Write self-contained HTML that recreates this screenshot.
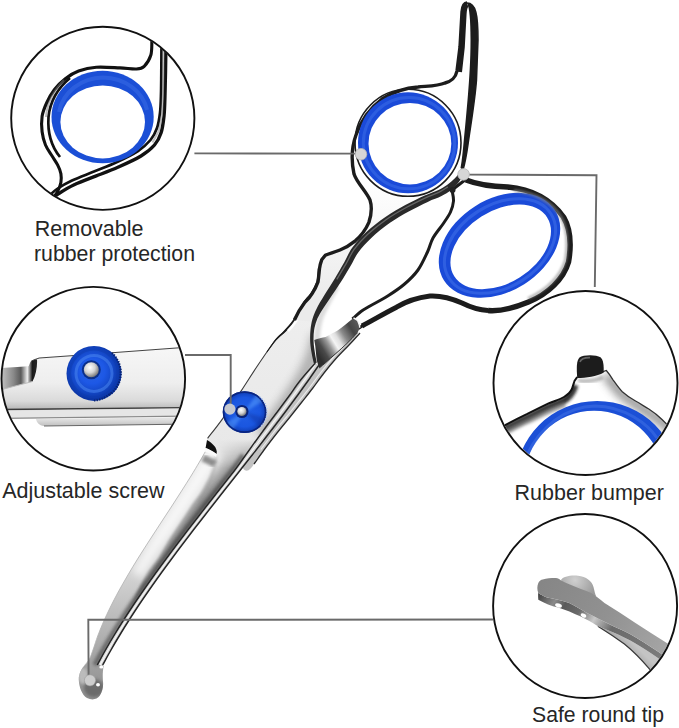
<!DOCTYPE html>
<html><head><meta charset="utf-8">
<style>
html,body{margin:0;padding:0;background:#fff;}
body{width:679px;height:728px;overflow:hidden;position:relative;}
svg{position:absolute;left:0;top:0;}
text{font-family:"Liberation Sans",sans-serif;fill:#262626;}
</style></head><body>
<svg width="679" height="728" viewBox="0 0 679 728">
<defs>
  <linearGradient id="h1G" gradientUnits="userSpaceOnUse" x1="0" y1="180" x2="0" y2="300">
    <stop offset="0" stop-color="#ffffff"/>
    <stop offset="1" stop-color="#ebebeb"/>
  </linearGradient>
  <linearGradient id="faceG" gradientUnits="userSpaceOnUse" x1="0" y1="290" x2="0" y2="695">
    <stop offset="0" stop-color="#efefef"/>
    <stop offset="0.4" stop-color="#e8e8e8"/>
    <stop offset="0.6" stop-color="#e2e2e2"/>
    <stop offset="0.72" stop-color="#cfcfcf"/>
    <stop offset="0.85" stop-color="#b2b2b2"/>
    <stop offset="1" stop-color="#8e8e8e"/>
  </linearGradient>
  <linearGradient id="bevG" gradientUnits="userSpaceOnUse" x1="0" y1="450" x2="0" y2="670">
    <stop offset="0" stop-color="#a0a0a0"/>
    <stop offset="0.4" stop-color="#8a8a8a"/>
    <stop offset="1" stop-color="#767676"/>
  </linearGradient>
  <linearGradient id="bevelG" gradientUnits="userSpaceOnUse" x1="190" y1="500" x2="215" y2="515">
    <stop offset="0" stop-color="#b5b5b5"/>
    <stop offset="0.6" stop-color="#6a6a6a"/>
    <stop offset="1" stop-color="#7a7a7a"/>
  </linearGradient>
  <linearGradient id="heelG" gradientUnits="userSpaceOnUse" x1="316" y1="352" x2="358" y2="326">
    <stop offset="0" stop-color="#2e2e2e"/>
    <stop offset="0.15" stop-color="#4a4a4a"/>
    <stop offset="0.3" stop-color="#9a9a9a"/>
    <stop offset="0.42" stop-color="#f4f4f4"/>
    <stop offset="0.52" stop-color="#e0e0e0"/>
    <stop offset="0.66" stop-color="#8a8a8a"/>
    <stop offset="0.85" stop-color="#444"/>
    <stop offset="1" stop-color="#555"/>
  </linearGradient>
  <radialGradient id="screwG" cx="0.5" cy="0.5" r="0.5">
    <stop offset="0" stop-color="#2260e6"/>
    <stop offset="0.7" stop-color="#1a56e0"/>
    <stop offset="0.9" stop-color="#1244c0"/>
    <stop offset="1" stop-color="#0a2a90"/>
  </radialGradient>
  <radialGradient id="ballG" cx="0.4" cy="0.35" r="0.7">
    <stop offset="0" stop-color="#ffffff"/>
    <stop offset="0.5" stop-color="#d4d4d4"/>
    <stop offset="1" stop-color="#6a6a6a"/>
  </radialGradient>
  <linearGradient id="barG" gradientUnits="userSpaceOnUse" x1="0" y1="350" x2="0" y2="410">
    <stop offset="0" stop-color="#f6f6f6"/>
    <stop offset="0.55" stop-color="#eeeeee"/>
    <stop offset="0.85" stop-color="#dadada"/>
    <stop offset="1" stop-color="#b4b4b4"/>
  </linearGradient>
  <linearGradient id="notchG" gradientUnits="userSpaceOnUse" x1="0" y1="0" x2="38" y2="0">
    <stop offset="0" stop-color="#c8c8c8"/>
    <stop offset="0.35" stop-color="#8a8a8a"/>
    <stop offset="0.55" stop-color="#5a5a5a"/>
    <stop offset="0.72" stop-color="#efefef"/>
    <stop offset="0.85" stop-color="#1a1a1a"/>
    <stop offset="1" stop-color="#2a2a2a"/>
  </linearGradient>
  <linearGradient id="strip2G" gradientUnits="userSpaceOnUse" x1="0" y1="419" x2="0" y2="426">
    <stop offset="0" stop-color="#e2e2e2"/>
    <stop offset="1" stop-color="#c0c0c0"/>
  </linearGradient>
  <radialGradient id="screwBigG" gradientUnits="userSpaceOnUse" cx="92" cy="371" r="28">
    <stop offset="0" stop-color="#2a62e0"/>
    <stop offset="0.45" stop-color="#1d58e6"/>
    <stop offset="0.75" stop-color="#1448c8"/>
    <stop offset="1" stop-color="#0b35a5"/>
  </radialGradient>
  <linearGradient id="tipFaceG" gradientUnits="userSpaceOnUse" x1="540" y1="585" x2="670" y2="650">
    <stop offset="0" stop-color="#868686"/>
    <stop offset="0.5" stop-color="#919191"/>
    <stop offset="1" stop-color="#a6a6a6"/>
  </linearGradient>
  <linearGradient id="sideG" gradientUnits="userSpaceOnUse" x1="540" y1="595" x2="650" y2="665">
    <stop offset="0" stop-color="#4a4a4a"/>
    <stop offset="0.12" stop-color="#8a8a8a"/>
    <stop offset="0.2" stop-color="#5a5a5a"/>
    <stop offset="0.32" stop-color="#6a6a6a"/>
    <stop offset="0.45" stop-color="#c8c8c8"/>
    <stop offset="0.6" stop-color="#6a6a6a"/>
    <stop offset="1" stop-color="#7a7a7a"/>
  </linearGradient>
  <linearGradient id="stripG" gradientUnits="userSpaceOnUse" x1="610" y1="640" x2="620" y2="630">
    <stop offset="0" stop-color="#9c9c9c"/>
    <stop offset="1" stop-color="#c4c4c4"/>
  </linearGradient>
  <radialGradient id="knobG" gradientUnits="userSpaceOnUse" cx="575" cy="580" r="22">
    <stop offset="0" stop-color="#d0d0d0"/>
    <stop offset="1" stop-color="#9a9a9a"/>
  </radialGradient>
  <filter id="blur5" x="-50%" y="-50%" width="200%" height="200%"><feGaussianBlur stdDeviation="4"/></filter>
  <linearGradient id="bvg0" gradientUnits="userSpaceOnUse" x1="0" y1="460" x2="0" y2="610"><stop offset="0.00" stop-color="#dedede"/><stop offset="0.27" stop-color="#a3a3a3"/><stop offset="0.70" stop-color="#8a8a8a"/><stop offset="1.00" stop-color="#888888"/></linearGradient>
  <linearGradient id="bvg1" gradientUnits="userSpaceOnUse" x1="0" y1="460" x2="0" y2="610"><stop offset="0.00" stop-color="#d7d7d7"/><stop offset="0.27" stop-color="#9d9d9d"/><stop offset="0.70" stop-color="#868686"/><stop offset="1.00" stop-color="#848484"/></linearGradient>
  <linearGradient id="bvg2" gradientUnits="userSpaceOnUse" x1="0" y1="460" x2="0" y2="610"><stop offset="0.00" stop-color="#d0d0d0"/><stop offset="0.27" stop-color="#979797"/><stop offset="0.70" stop-color="#828282"/><stop offset="1.00" stop-color="#808080"/></linearGradient>
  <linearGradient id="bvg3" gradientUnits="userSpaceOnUse" x1="0" y1="460" x2="0" y2="610"><stop offset="0.00" stop-color="#c8c8c8"/><stop offset="0.27" stop-color="#929292"/><stop offset="0.70" stop-color="#7e7e7e"/><stop offset="1.00" stop-color="#7c7c7c"/></linearGradient>
  <linearGradient id="bvg4" gradientUnits="userSpaceOnUse" x1="0" y1="460" x2="0" y2="610"><stop offset="0.00" stop-color="#c1c1c1"/><stop offset="0.27" stop-color="#8c8c8c"/><stop offset="0.70" stop-color="#7a7a7a"/><stop offset="1.00" stop-color="#787878"/></linearGradient>
  <linearGradient id="bvg5" gradientUnits="userSpaceOnUse" x1="0" y1="460" x2="0" y2="610"><stop offset="0.00" stop-color="#bababa"/><stop offset="0.27" stop-color="#868686"/><stop offset="0.70" stop-color="#767676"/><stop offset="1.00" stop-color="#747474"/></linearGradient>
  <linearGradient id="bvg6" gradientUnits="userSpaceOnUse" x1="0" y1="460" x2="0" y2="610"><stop offset="0.00" stop-color="#b2b2b2"/><stop offset="0.27" stop-color="#808080"/><stop offset="0.70" stop-color="#727272"/><stop offset="1.00" stop-color="#707070"/></linearGradient>
  <linearGradient id="bvg7" gradientUnits="userSpaceOnUse" x1="0" y1="460" x2="0" y2="610"><stop offset="0.00" stop-color="#ababab"/><stop offset="0.27" stop-color="#7a7a7a"/><stop offset="0.70" stop-color="#6e6e6e"/><stop offset="1.00" stop-color="#6c6c6c"/></linearGradient>
  <linearGradient id="bvg8" gradientUnits="userSpaceOnUse" x1="0" y1="460" x2="0" y2="610"><stop offset="0.00" stop-color="#a4a4a4"/><stop offset="0.27" stop-color="#747474"/><stop offset="0.70" stop-color="#6a6a6a"/><stop offset="1.00" stop-color="#686868"/></linearGradient>
  <linearGradient id="bvg9" gradientUnits="userSpaceOnUse" x1="0" y1="460" x2="0" y2="610"><stop offset="0.00" stop-color="#9c9c9c"/><stop offset="0.27" stop-color="#6f6f6f"/><stop offset="0.70" stop-color="#666666"/><stop offset="1.00" stop-color="#646464"/></linearGradient>
  <linearGradient id="bvg10" gradientUnits="userSpaceOnUse" x1="0" y1="460" x2="0" y2="610"><stop offset="0.00" stop-color="#959595"/><stop offset="0.27" stop-color="#696969"/><stop offset="0.70" stop-color="#626262"/><stop offset="1.00" stop-color="#606060"/></linearGradient>
  <linearGradient id="bvg11" gradientUnits="userSpaceOnUse" x1="0" y1="460" x2="0" y2="610"><stop offset="0.00" stop-color="#8e8e8e"/><stop offset="0.27" stop-color="#636363"/><stop offset="0.70" stop-color="#5e5e5e"/><stop offset="1.00" stop-color="#5c5c5c"/></linearGradient>
  <linearGradient id="bevFade" gradientUnits="userSpaceOnUse" x1="0" y1="438" x2="0" y2="468">
    <stop offset="0" stop-color="#000"/>
    <stop offset="1" stop-color="#fff"/>
  </linearGradient>
  <mask id="bevMask" maskUnits="userSpaceOnUse" x="0" y="0" width="679" height="728"><rect x="0" y="0" width="679" height="728" fill="url(#bevFade)"/></mask>
  <filter id="blur1" x="-50%" y="-50%" width="200%" height="200%"><feGaussianBlur stdDeviation="1.0"/></filter>
  <filter id="blur2" x="-50%" y="-50%" width="200%" height="200%"><feGaussianBlur stdDeviation="1.5"/></filter>
  <clipPath id="c1"><circle cx="102.8" cy="118.3" r="91"/></clipPath>
  <clipPath id="c2"><circle cx="93.3" cy="378.7" r="91"/></clipPath>
  <clipPath id="c3"><circle cx="585.5" cy="383" r="91"/></clipPath>
  <clipPath id="c4"><circle cx="585.1" cy="606" r="91"/></clipPath>
</defs>

<!-- ============ callout circle 1: ring ============ -->
<g clip-path="url(#c1)">
  <path d="M152.0 38.0 C152.0 38.5 152.1 38.1 151.9 41.0 C151.7 43.9 152.1 51.1 150.8 55.3 C149.5 59.5 146.6 64.0 144.2 66.3 C141.8 68.6 140.5 68.7 136.5 69.0 C132.5 69.3 126.7 68.2 120.0 67.9 C113.3 67.6 103.2 66.7 96.3 67.2 C89.4 67.7 83.8 69.1 78.6 71.0 C73.4 72.9 69.3 75.6 65.3 78.7 C61.2 81.8 57.4 85.8 54.3 89.8 C51.2 93.8 48.6 98.6 46.6 103.0 C44.6 107.4 42.9 111.5 42.1 116.3 C41.4 121.1 41.5 126.9 42.1 131.7 C42.7 136.5 43.8 140.9 45.5 145.0 C47.2 149.1 50.1 152.7 52.1 156.0 C54.1 159.3 56.1 162.0 57.6 164.9 C59.1 167.8 60.4 170.8 60.9 173.7 C61.4 176.6 61.4 179.6 60.9 182.5 C60.4 185.4 58.9 188.8 57.6 191.4 C56.3 194.0 55.0 195.4 53.2 198.0 C51.4 200.6 48.0 205.5 47.0 207.0 L44.0 206.0 C45.0 205.0 47.5 202.1 50.0 200.0 C52.5 197.9 54.7 196.2 58.7 193.6 C62.7 191.0 67.9 187.6 74.2 184.7 C80.5 181.8 88.9 178.8 96.3 175.9 C103.7 173.0 111.0 170.3 118.4 167.0 C125.9 163.7 135.0 159.7 141.0 156.0 C147.0 152.3 151.2 148.8 154.5 145.0 C157.8 141.2 159.4 137.8 161.0 133.0 C162.6 128.2 163.3 122.5 164.0 116.0 C164.7 109.5 164.8 101.3 165.0 94.0 C165.2 86.7 165.3 81.3 165.5 72.0 C165.7 62.7 165.9 43.7 166.0 38.0 Z" fill="#fff"/>
  <path d="M152.0 38.0 C152.0 38.5 152.1 38.1 151.9 41.0 C151.7 43.9 152.1 51.1 150.8 55.3 C149.5 59.5 146.6 64.0 144.2 66.3 C141.8 68.6 140.5 68.7 136.5 69.0 C132.5 69.3 126.7 68.2 120.0 67.9 C113.3 67.6 103.2 66.7 96.3 67.2 C89.4 67.7 83.8 69.1 78.6 71.0 C73.4 72.9 69.3 75.6 65.3 78.7 C61.2 81.8 57.4 85.8 54.3 89.8 C51.2 93.8 48.6 98.6 46.6 103.0 C44.6 107.4 42.9 111.5 42.1 116.3 C41.4 121.1 41.5 126.9 42.1 131.7 C42.7 136.5 43.8 140.9 45.5 145.0 C47.2 149.1 50.1 152.7 52.1 156.0 C54.1 159.3 56.1 162.0 57.6 164.9 C59.1 167.8 60.4 170.8 60.9 173.7 C61.4 176.6 61.4 179.6 60.9 182.5 C60.4 185.4 58.9 188.8 57.6 191.4 C56.3 194.0 55.0 195.4 53.2 198.0 C51.4 200.6 48.0 205.5 47.0 207.0" fill="none" stroke="#111" stroke-width="3.1"/>
  <path d="M166.0 38.0 C165.9 43.7 165.7 62.7 165.5 72.0 C165.3 81.3 165.2 86.7 165.0 94.0 C164.8 101.3 164.7 109.5 164.0 116.0 C163.3 122.5 162.6 128.2 161.0 133.0 C159.4 137.8 157.8 141.2 154.5 145.0 C151.2 148.8 147.0 152.3 141.0 156.0 C135.0 159.7 125.9 163.7 118.4 167.0 C111.0 170.3 103.7 173.0 96.3 175.9 C88.9 178.8 80.5 181.8 74.2 184.7 C67.9 187.6 62.7 191.0 58.7 193.6 C54.7 196.2 52.5 197.9 50.0 200.0 C47.5 202.1 45.0 205.0 44.0 206.0" fill="none" stroke="#111" stroke-width="3.4"/>
  <path d="M161.5 38.0 C161.5 43.7 161.4 62.7 161.3 72.0 C161.2 81.3 161.2 87.2 161.0 94.0 C160.8 100.8 160.7 107.3 160.0 113.0 C159.3 118.7 158.6 123.5 157.0 128.0 C155.4 132.5 153.7 136.2 150.5 140.0 C147.3 143.8 143.8 147.2 138.0 151.0 C132.2 154.8 123.3 159.1 116.0 162.5 C108.7 165.9 101.3 168.5 94.0 171.5 C86.7 174.5 78.2 177.6 72.0 180.5 C65.8 183.4 60.8 186.4 57.0 189.0 C53.2 191.6 51.5 193.7 49.0 196.0 C46.5 198.3 43.2 201.8 42.0 203.0" fill="none" stroke="#111" stroke-width="2.7"/>
  <path d="M163.5 40 L163.3 72 L163 94 L162 114.5 L159 130.5 L152.5 142.5" fill="none" stroke="#9a9a9a" stroke-width="2" opacity="0.6"/>
  <path d="M70 78 C58 88 50 102 48.5 117 C47.5 132 51 146 60 157" fill="none" stroke="#111" stroke-width="2.7"/>
  <path d="M64 80 C54 90 47 103 46 117" fill="none" stroke="#777" stroke-width="2" opacity="0.5"/>
  <ellipse cx="102.6" cy="117" rx="51.1" ry="46.3" fill="#1b4fd6"/>
  <ellipse cx="102.7" cy="121.9" rx="42.3" ry="36.5" fill="#fff"/>
  <path d="M59 112 C63 92 81 78 103 77.5 C125 78 143 91 147 110" fill="none" stroke="#4a7aee" stroke-width="4" opacity="0.35"/>
</g>
<circle cx="102.8" cy="118.3" r="91.6" fill="none" stroke="#111" stroke-width="1.9"/>

<!-- ============ callout circle 2: screw ============ -->
<g clip-path="url(#c2)">
  <!-- bar body -->
  <path d="M0 368 L28.7 366.3 C29.5 364 30 362.5 31 361.5 C33 360 35.5 359 39.3 358 L71 355.7 L179.7 347.7 L195 347 L195 409 L0 411 Z" fill="url(#barG)"/>
  <path d="M31 361.5 C33 360 35.5 359 39.3 358 L71 355.7 L179.7 347.7 L195 347" fill="none" stroke="#444" stroke-width="1.1"/>
  <!-- notch -->
  <path d="M0 368 L28.7 366.3 C29.5 364 30 362.5 31 361.5 C33.5 360 35.5 359.5 37 359.5 C37.5 366 36 375 32.5 381.5 L0 390 Z" fill="url(#notchG)"/>
  <path d="M0 390 L32.5 381.5" stroke="#bbb" stroke-width="1" fill="none"/>
  <!-- lower strips -->
  <path d="M0 409.5 L195 407.5" stroke="#3a3a3a" stroke-width="1.4" fill="none"/>
  <path d="M0 410.5 L195 408.5 L195 416 L0 418.5 Z" fill="#e6e6e6"/>
  <path d="M0 418.5 L195 416" stroke="#8a8a8a" stroke-width="1.2" fill="none"/>
  <path d="M36 419 L195 417 L195 424 L44 426 C39 425.5 37 423 36 419 Z" fill="url(#strip2G)"/>
  <path d="M44 426 L195 424" stroke="#666" stroke-width="1" fill="none"/>
  <!-- screw -->
  <circle cx="94" cy="373.4" r="27.5" fill="url(#screwBigG)"/>
  <circle cx="94" cy="373.4" r="18" fill="none" stroke="#4d8af2" stroke-width="3" opacity="0.5"/>
  <circle cx="94" cy="373.4" r="24" fill="none" stroke="#0d3cb0" stroke-width="2" opacity="0.5"/>
  <path d="M112 353 A27 27 0 0 1 110 394.5" fill="none" stroke="#08226e" stroke-width="2.2" stroke-dasharray="1.3 1.3"/>
  <path d="M94 400.5 A27 27 0 0 0 111 393" fill="none" stroke="#08226e" stroke-width="2" stroke-dasharray="1.3 1.3"/>
  <circle cx="91.3" cy="369.8" r="9.5" fill="#0b2f8a"/>
  <circle cx="91.3" cy="369.8" r="7.5" fill="url(#ballG)"/>
</g>
<circle cx="93.3" cy="378.7" r="91.8" fill="none" stroke="#111" stroke-width="1.9"/>

<!-- ============ callout circle 3: bumper ============ -->
<g clip-path="url(#c3)">
  <clipPath id="c3frame"><path d="M485 436 L505.6 424.8 C512 421.5 520 417.5 526.8 414.2 C534 410.5 541 407 548 403.6 C554 401 560 399.5 564 397 C568 394.5 570.5 392 571.9 389 C573 386 573.8 383 574.5 381 L577.2 377 L602.4 371.8 L606.3 370.5 C608.5 373 611 376.5 613 379.8 C616 384 619 388.5 622.3 391.7 C626.5 395.5 631 398.5 635.5 401 C640 403.5 644.5 406.5 648.8 409 C653.5 412 658 415.5 662 419.5 C665 422.5 667.5 425 670 427.5 L685 440 L685 480 L485 480 Z"/></clipPath>
  <g clip-path="url(#c3frame)">
    <path d="M485 440 L505.6 428.5 C515 424 522 420 530 416.5 C540 411 550 406 563 401 C569 397.5 573 392 575 385" fill="none" stroke="#1a1a1a" stroke-width="7" opacity="0.9" filter="url(#blur2)"/>
    <path d="M485 444 L505.6 432 C515 427 522 423 531 419.5 C541 414.5 551 409.5 565 404.5" fill="none" stroke="#777" stroke-width="6" opacity="0.6" filter="url(#blur2)"/>
    <path d="M606 375 C610 380 614 386 621 393.5 C630 401 642 408 655 417 C662 422 668 427 672 431" fill="none" stroke="#6a6a6a" stroke-width="9" opacity="0.75" filter="url(#blur5)"/>
    <path d="M578 380 C583 382 596 381 603 377" fill="none" stroke="#888" stroke-width="4" opacity="0.6" filter="url(#blur2)"/>
  </g>
  <path d="M485 436 L505.6 424.8 C512 421.5 520 417.5 526.8 414.2 C534 410.5 541 407 548 403.6 C554 401 560 399.5 564 397 C568 394.5 570.5 392 571.9 389 C573 386 573.8 383 574.5 381 L577.2 377" fill="none" stroke="#111" stroke-width="2"/>
  <path d="M602.4 371.8 L606.3 370.5 C608.5 373 611 376.5 613 379.8 C616 384 619 388.5 622.3 391.7 C626.5 395.5 631 398.5 635.5 401 C640 403.5 644.5 406.5 648.8 409 C653.5 412 658 415.5 662 419.5 C665 422.5 667.5 425 670 427.5" fill="none" stroke="#333" stroke-width="1.3"/>
  <path d="M577.2 378 C576.6 369 576.2 361 579.5 357.6 C583 354.6 596 354.4 600.5 357.3 C603.6 360 603.8 366 603.7 372.5 C597 376.5 586 378 577.2 378 Z" fill="#1c1c1c"/>
  <path d="M580 362 C581 358.5 586 357.5 590 357.6" fill="none" stroke="#777" stroke-width="1.6" opacity="0.8"/>
  <path fill-rule="evenodd" d="M515.1 483 A82 82 0 1 1 679.1 483 A82 82 0 1 1 515.1 483 Z M524.3 480.5 A69.8 69.8 0 1 0 663.9 480.5 A69.8 69.8 0 1 0 524.3 480.5 Z" fill="#1b4fd6"/>
  <path d="M527 455 C540 428 565 406.5 595 406 C625 406.5 648 424 657 438" fill="none" stroke="#4a78e8" stroke-width="3" opacity="0.45"/>
</g>
<circle cx="585.5" cy="383" r="92" fill="none" stroke="#111" stroke-width="1.9"/>

<!-- ============ callout circle 4: tip ============ -->
<g clip-path="url(#c4)">
  <!-- blade B knob (behind) -->
  <path d="M561 580 C563 577 570 575 578 575.8 C586 576.6 592 581 593.5 587 C594.5 591 595 594 596 596 L570 598 Z" fill="url(#knobG)"/>
  <!-- lower strip (blade B edge) -->
  <path d="M597.9 626.3 C607 632 616 638 624.4 644 C633 651 641 659 648.7 668.2 L662 684 L690 690 L690 675 L666.4 663.5 C656 657 646 649.5 635.5 643.5 C628 639 620 635.5 613.4 632.5 Z" fill="url(#stripG)"/>
  <path d="M597.9 626.3 C607 632 616 638 624.4 644 C633 651 641 659 648.7 668.2 L662 684" fill="none" stroke="#3a3a3a" stroke-width="1.3"/>
  <!-- side face of blade A tip -->
  <path d="M538.3 588 C538 592 538 596 538.3 599.8 C545 603.5 551 606 558.1 607.5 C566 610 573 613 580.2 616.3 C587 619.5 592 622.5 597.9 626.3 L613.4 632.5 C620 635.5 628 639 635.5 643.5 C646 649.5 656 657 666.4 663.5 L690 675 L690 655 L666.4 657.2 C656 650.5 646 643.5 635.5 637.3 C628 632.5 621 629.5 613.4 626.3 C605 622 596 617.5 586.9 613 C581 609.5 575 606 569.2 603.1 C562 600.5 554 599 547.1 597.6 C543.5 596.5 540.5 594.5 538.3 593.1 Z" fill="url(#sideG)"/>
  <!-- top flat face -->
  <path d="M538.3 593.1 C537 590 537 586 538.3 583 C539.5 580.5 541 579.6 542.7 579.4 C547 578.5 552 578 555.9 578.1 C558 578.3 559.5 579 560.3 579.9 C563 581.5 566 583 569.2 584.3 C576.5 587.5 584 590 591.3 593.1 C596 596 600 599.5 604.5 603.1 C625 616 646 630 666.4 642.8 L690 655 L690 665 L666.4 657.2 C656 650.5 646 643.5 635.5 637.3 C628 632.5 621 629.5 613.4 626.3 C605 622 596 617.5 586.9 613 C581 609.5 575 606 569.2 603.1 C562 600.5 554 599 547.1 597.6 C543.5 596.5 540.5 594.5 538.3 593.1 Z" fill="url(#tipFaceG)"/>
  <ellipse cx="558.5" cy="605.5" rx="3.5" ry="2" fill="#fff" transform="rotate(20 558.5 605.5)"/>
  <ellipse cx="583.5" cy="615.5" rx="3" ry="1.8" fill="#fff" transform="rotate(25 583.5 615.5)"/>
</g>
<circle cx="585.1" cy="606" r="92" fill="none" stroke="#111" stroke-width="1.9"/>

<!-- ============ scissors: blade ============ -->
<!-- blade B back strip (ends at tail) -->
<path d="M360.0 333.0 C358.2 335.0 353.0 340.8 349.0 345.0 C345.0 349.2 340.2 353.8 336.0 358.5 C331.8 363.2 327.9 368.0 324.0 373.0 C320.1 378.0 316.2 383.6 312.5 388.5 C308.8 393.4 305.2 397.8 301.5 402.5 C297.8 407.2 294.1 411.9 290.0 417.0 C285.9 422.1 281.3 427.5 277.0 433.0 C272.7 438.5 267.8 444.8 264.0 450.0 C260.2 455.2 255.7 461.7 254.0 464.0 C251.5 468 249 471 246.5 470.8 C244 470.5 242.5 468.5 242 465 L300 390 L330 352 Z" fill="#c2c2c2"/>
<path d="M345.8 344.5 C343.6 346.8 337.0 353.3 332.8 358.0 C328.6 362.7 324.7 367.5 320.8 372.5 C316.9 377.5 313.1 383.1 309.3 388.0 C305.6 392.9 302.1 397.2 298.3 402.0 C294.6 406.8 290.9 411.4 286.8 416.5 C282.7 421.6 278.1 427.0 273.8 432.5 C269.5 438.0 263.0 446.7 260.8 449.5" fill="none" stroke="#ececec" stroke-width="1.2"/>
<path d="M360.0 333.0 C358.2 335.0 353.0 340.8 349.0 345.0 C345.0 349.2 340.2 353.8 336.0 358.5 C331.8 363.2 327.9 368.0 324.0 373.0 C320.1 378.0 316.2 383.6 312.5 388.5 C308.8 393.4 305.2 397.8 301.5 402.5 C297.8 407.2 294.1 411.9 290.0 417.0 C285.9 422.1 281.3 427.5 277.0 433.0 C272.7 438.5 267.8 444.8 264.0 450.0 C260.2 455.2 255.7 461.7 254.0 464.0" fill="none" stroke="#2a2a2a" stroke-width="1.3"/>
<!-- main blade (A face + edge strip) -->
<path id="bladeMain" d="M319.5 268.6 C319.2 270.8 319.2 277.7 318.0 281.9 C316.8 286.1 314.3 290.2 312.1 293.6 C309.9 297.0 307.6 298.1 304.7 302.5 C301.8 306.9 297.7 315.2 294.4 320.0 C291.1 324.8 288.1 327.7 285.0 331.0 C281.9 334.3 280.1 334.3 275.6 340.0 C271.1 345.7 263.8 356.4 258.0 365.0 C252.2 373.6 246.7 382.5 240.8 391.4 C234.9 400.3 228.2 410.8 222.7 418.6 C217.2 426.4 210.1 435.0 207.6 438.3 L205.4 451.5 C204.4 453.2 201.8 457.9 199.4 462.0 C197.0 466.1 194.1 471.0 191.0 476.0 C187.9 481.0 184.3 486.7 180.9 492.0 C177.5 497.3 174.1 502.7 170.6 508.0 C167.1 513.3 163.8 518.3 160.1 524.0 C156.4 529.7 152.1 536.3 148.4 542.0 C144.8 547.7 141.6 552.5 138.2 558.0 C134.8 563.5 131.2 569.3 127.9 575.0 C124.6 580.7 121.1 586.7 118.2 592.0 C115.3 597.3 112.9 602.0 110.4 607.0 C107.9 612.0 105.5 617.2 103.4 622.0 C101.3 626.8 99.4 631.5 97.7 636.0 C96.0 640.5 94.7 645.2 93.3 649.0 C91.9 652.8 91.0 656.2 89.5 659.0 C88.0 661.8 85.3 664.4 84.5 665.5 C81 669 78.5 675 78.8 680 C79 687 82 695 87 698 C92 700.5 97 699.5 99.7 695.8 C102.5 692 103.5 686 103 681.5 C102.6 677 102.6 671 103.7 666 L102.7 665.0 C104.1 662.5 108.1 655.0 111.0 650.0 C113.8 645.0 116.7 640.0 119.8 635.0 C122.8 630.0 125.9 625.0 129.1 620.0 C132.3 615.0 135.6 610.0 138.9 605.0 C142.3 600.0 145.7 595.0 149.2 590.0 C152.7 585.0 156.2 580.0 159.8 575.0 C163.4 570.0 167.1 565.0 170.8 560.0 C174.5 555.0 178.2 550.0 182.0 545.0 C185.8 540.0 189.6 535.0 193.4 530.0 C197.3 525.0 201.2 520.0 205.1 515.0 C208.9 510.0 212.9 505.0 216.8 500.0 C220.7 495.0 224.6 490.0 228.6 485.0 C232.5 480.0 236.5 475.0 240.4 470.0 C244.3 465.0 248.2 460.0 252.2 455.0 C256.1 450.0 260.0 445.0 263.8 440.0 C267.7 435.0 271.5 430.0 275.4 425.0 C279.2 420.0 283.0 415.0 286.7 410.0 C290.4 405.0 294.1 400.0 297.8 395.0 C301.4 390.0 305.0 385.0 308.6 380.0 C312.1 375.0 317.2 367.5 319.0 365.0 L315.3 363.0 C315.0 361.4 314.2 357.1 313.6 353.6 C313.0 350.1 312.0 346.1 311.8 341.8 C311.6 337.5 311.5 332.4 312.3 328.0 C313.1 323.6 313.9 320.9 316.4 315.7 C318.9 310.4 323.5 302.4 327.4 296.5 C331.3 290.6 336.9 284.1 339.8 280.0 C342.7 275.9 344.1 273.3 345.0 272.0 Z" fill="url(#faceG)"/>
<clipPath id="bladeClip"><use href="#bladeMain"/></clipPath>
<g clip-path="url(#bladeClip)">
  <g filter="url(#blur1)" mask="url(#bevMask)">
  <path d="M219.0 440.0 L218.4 443.0 L217.7 446.0 L217.2 449.0 L216.8 452.0 L216.3 455.0 L215.8 458.0 L215.2 461.0 L214.4 464.0 L213.4 467.0 L212.5 470.0 L210.8 473.0 L209.2 476.0 L207.6 479.0 L206.0 482.0 L204.4 485.0 L202.9 488.0 L201.3 491.0 L199.5 494.0 L197.3 497.0 L195.0 500.0 L192.8 503.0 L190.7 506.0 L188.8 509.0 L186.9 512.0 L185.0 515.0 L183.0 518.0 L181.0 521.0 L179.0 524.0 L177.0 527.0 L175.0 530.0 L173.0 533.0 L171.0 536.0 L169.0 539.0 L167.3 542.0 L165.6 545.0 L163.8 548.0 L162.1 551.0 L160.4 554.0 L158.7 557.0 L156.7 560.0 L154.3 563.0 L152.0 566.0 L149.6 569.0 L147.5 572.0 L145.9 575.0 L144.2 578.0 L142.6 581.0 L141.0 584.0 L139.6 587.0 L138.2 590.0 L136.8 593.0 L135.4 596.0 L134.0 599.0 L132.4 602.0 L130.8 605.0 L129.2 608.0 L127.6 611.0 L126.0 614.0 L124.5 617.0 L123.0 620.0 L121.5 623.0 L120.0 626.0 L118.5 629.0 L117.1 632.0 L115.7 635.0 L114.3 638.0 L112.9 641.0 L111.5 644.0 L110.1 647.0 L108.7 650.0 L107.3 653.0 L105.9 656.0 L105.5 656.0 L106.9 653.0 L108.4 650.0 L109.8 647.0 L111.2 644.0 L112.6 641.0 L114.1 638.0 L115.5 635.0 L117.0 632.0 L118.4 629.0 L120.0 626.0 L121.5 623.0 L123.1 620.0 L124.6 617.0 L126.2 614.0 L127.8 611.0 L129.5 608.0 L131.1 605.0 L132.7 602.0 L134.3 599.0 L135.8 596.0 L137.3 593.0 L138.7 590.0 L140.2 587.0 L141.7 584.0 L143.4 581.0 L145.1 578.0 L146.7 575.0 L148.4 572.0 L150.5 569.0 L152.9 566.0 L155.2 563.0 L157.6 560.0 L159.6 557.0 L161.3 554.0 L163.1 551.0 L164.9 548.0 L166.7 545.0 L168.5 542.0 L170.2 539.0 L172.3 536.0 L174.3 533.0 L176.3 530.0 L178.4 527.0 L180.4 524.0 L182.4 521.0 L184.5 518.0 L186.5 515.0 L188.5 512.0 L190.4 509.0 L192.4 506.0 L194.4 503.0 L196.7 500.0 L199.0 497.0 L201.2 494.0 L203.1 491.0 L204.7 488.0 L206.4 485.0 L208.0 482.0 L209.6 479.0 L211.4 476.0 L213.1 473.0 L214.8 470.0 L215.9 467.0 L216.9 464.0 L217.9 461.0 L218.6 458.0 L219.4 455.0 L220.0 452.0 L220.6 449.0 L221.3 446.0 L222.1 443.0 L222.9 440.0 Z" fill="url(#bvg0)"/>
  <path d="M222.1 440.0 L221.4 443.0 L220.6 446.0 L219.9 449.0 L219.4 452.0 L218.8 455.0 L218.1 458.0 L217.4 461.0 L216.4 464.0 L215.4 467.0 L214.4 470.0 L212.7 473.0 L210.9 476.0 L209.2 479.0 L207.6 482.0 L206.0 485.0 L204.4 488.0 L202.7 491.0 L200.9 494.0 L198.6 497.0 L196.4 500.0 L194.1 503.0 L192.0 506.0 L190.1 509.0 L188.2 512.0 L186.2 515.0 L184.2 518.0 L182.2 521.0 L180.1 524.0 L178.1 527.0 L176.1 530.0 L174.1 533.0 L172.0 536.0 L170.0 539.0 L168.2 542.0 L166.5 545.0 L164.7 548.0 L162.9 551.0 L161.2 554.0 L159.4 557.0 L157.4 560.0 L155.1 563.0 L152.7 566.0 L150.3 569.0 L148.2 572.0 L146.6 575.0 L144.9 578.0 L143.3 581.0 L141.6 584.0 L140.1 587.0 L138.6 590.0 L137.2 593.0 L135.7 596.0 L134.3 599.0 L132.7 602.0 L131.0 605.0 L129.4 608.0 L127.8 611.0 L126.2 614.0 L124.6 617.0 L123.1 620.0 L121.5 623.0 L120.0 626.0 L118.5 629.0 L117.0 632.0 L115.5 635.0 L114.1 638.0 L112.7 641.0 L111.3 644.0 L109.8 647.0 L108.4 650.0 L107.0 653.0 L105.6 656.0 L105.2 656.0 L106.6 653.0 L108.1 650.0 L109.5 647.0 L111.0 644.0 L112.5 641.0 L113.9 638.0 L115.4 635.0 L116.9 632.0 L118.4 629.0 L120.0 626.0 L121.5 623.0 L123.1 620.0 L124.7 617.0 L126.3 614.0 L128.0 611.0 L129.6 608.0 L131.3 605.0 L133.0 602.0 L134.6 599.0 L136.1 596.0 L137.7 593.0 L139.2 590.0 L140.7 587.0 L142.3 584.0 L144.0 581.0 L145.7 578.0 L147.4 575.0 L149.1 572.0 L151.3 569.0 L153.6 566.0 L156.0 563.0 L158.3 560.0 L160.3 557.0 L162.1 554.0 L163.9 551.0 L165.8 548.0 L167.6 545.0 L169.4 542.0 L171.2 539.0 L173.3 536.0 L175.4 533.0 L177.4 530.0 L179.5 527.0 L181.5 524.0 L183.6 521.0 L185.7 518.0 L187.7 515.0 L189.7 512.0 L191.7 509.0 L193.7 506.0 L195.8 503.0 L198.1 500.0 L200.3 497.0 L202.6 494.0 L204.5 491.0 L206.2 488.0 L207.9 485.0 L209.6 482.0 L211.3 479.0 L213.1 476.0 L214.9 473.0 L216.7 470.0 L217.8 467.0 L219.0 464.0 L220.1 461.0 L220.9 458.0 L221.8 455.0 L222.6 452.0 L223.3 449.0 L224.1 446.0 L225.1 443.0 L226.0 440.0 Z" fill="url(#bvg1)"/>
  <path d="M225.2 440.0 L224.4 443.0 L223.5 446.0 L222.7 449.0 L222.0 452.0 L221.2 455.0 L220.4 458.0 L219.6 461.0 L218.5 464.0 L217.4 467.0 L216.2 470.0 L214.5 473.0 L212.7 476.0 L210.9 479.0 L209.2 482.0 L207.5 485.0 L205.9 488.0 L204.2 491.0 L202.3 494.0 L200.0 497.0 L197.7 500.0 L195.5 503.0 L193.4 506.0 L191.4 509.0 L189.4 512.0 L187.4 515.0 L185.4 518.0 L183.3 521.0 L181.3 524.0 L179.2 527.0 L177.2 530.0 L175.1 533.0 L173.1 536.0 L171.0 539.0 L169.2 542.0 L167.4 545.0 L165.6 548.0 L163.7 551.0 L161.9 554.0 L160.1 557.0 L158.1 560.0 L155.8 563.0 L153.4 566.0 L151.1 569.0 L149.0 572.0 L147.3 575.0 L145.6 578.0 L143.9 581.0 L142.2 584.0 L140.6 587.0 L139.1 590.0 L137.6 593.0 L136.1 596.0 L134.6 599.0 L132.9 602.0 L131.3 605.0 L129.6 608.0 L127.9 611.0 L126.3 614.0 L124.7 617.0 L123.1 620.0 L121.5 623.0 L120.0 626.0 L118.4 629.0 L116.9 632.0 L115.4 635.0 L114.0 638.0 L112.5 641.0 L111.0 644.0 L109.6 647.0 L108.2 650.0 L106.7 653.0 L105.3 656.0 L104.9 656.0 L106.4 653.0 L107.8 650.0 L109.3 647.0 L110.8 644.0 L112.3 641.0 L113.8 638.0 L115.3 635.0 L116.8 632.0 L118.3 629.0 L119.9 626.0 L121.6 623.0 L123.2 620.0 L124.8 617.0 L126.4 614.0 L128.1 611.0 L129.8 608.0 L131.5 605.0 L133.2 602.0 L134.9 599.0 L136.5 596.0 L138.1 593.0 L139.7 590.0 L141.2 587.0 L142.9 584.0 L144.6 581.0 L146.4 578.0 L148.1 575.0 L149.9 572.0 L152.0 569.0 L154.4 566.0 L156.7 563.0 L159.0 560.0 L161.0 557.0 L162.9 554.0 L164.8 551.0 L166.6 548.0 L168.5 545.0 L170.4 542.0 L172.3 539.0 L174.3 536.0 L176.4 533.0 L178.5 530.0 L180.6 527.0 L182.7 524.0 L184.8 521.0 L186.8 518.0 L188.9 515.0 L191.0 512.0 L193.0 509.0 L195.0 506.0 L197.1 503.0 L199.4 500.0 L201.7 497.0 L204.0 494.0 L205.9 491.0 L207.7 488.0 L209.5 485.0 L211.2 482.0 L213.0 479.0 L214.9 476.0 L216.7 473.0 L218.5 470.0 L219.8 467.0 L221.1 464.0 L222.3 461.0 L223.3 458.0 L224.3 455.0 L225.2 452.0 L226.1 449.0 L227.0 446.0 L228.1 443.0 L229.1 440.0 Z" fill="url(#bvg2)"/>
  <path d="M228.4 440.0 L227.3 443.0 L226.3 446.0 L225.4 449.0 L224.6 452.0 L223.7 455.0 L222.7 458.0 L221.7 461.0 L220.6 464.0 L219.3 467.0 L218.1 470.0 L216.3 473.0 L214.4 476.0 L212.6 479.0 L210.8 482.0 L209.1 485.0 L207.3 488.0 L205.6 491.0 L203.7 494.0 L201.4 497.0 L199.1 500.0 L196.8 503.0 L194.7 506.0 L192.7 509.0 L190.7 512.0 L188.6 515.0 L186.6 518.0 L184.5 521.0 L182.4 524.0 L180.3 527.0 L178.2 530.0 L176.2 533.0 L174.1 536.0 L172.0 539.0 L170.1 542.0 L168.3 545.0 L166.4 548.0 L164.6 551.0 L162.7 554.0 L160.9 557.0 L158.8 560.0 L156.5 563.0 L154.2 566.0 L151.9 569.0 L149.7 572.0 L148.0 575.0 L146.2 578.0 L144.5 581.0 L142.7 584.0 L141.1 587.0 L139.5 590.0 L138.0 593.0 L136.4 596.0 L134.8 599.0 L133.2 602.0 L131.5 605.0 L129.8 608.0 L128.1 611.0 L126.4 614.0 L124.8 617.0 L123.2 620.0 L121.5 623.0 L120.0 626.0 L118.4 629.0 L116.8 632.0 L115.3 635.0 L113.8 638.0 L112.3 641.0 L110.8 644.0 L109.4 647.0 L107.9 650.0 L106.4 653.0 L105.0 656.0 L104.6 656.0 L106.1 653.0 L107.5 650.0 L109.1 647.0 L110.6 644.0 L112.1 641.0 L113.6 638.0 L115.2 635.0 L116.7 632.0 L118.3 629.0 L119.9 626.0 L121.6 623.0 L123.2 620.0 L124.9 617.0 L126.5 614.0 L128.3 611.0 L130.0 608.0 L131.8 605.0 L133.5 602.0 L135.2 599.0 L136.8 596.0 L138.5 593.0 L140.1 590.0 L141.8 587.0 L143.5 584.0 L145.2 581.0 L147.0 578.0 L148.8 575.0 L150.6 572.0 L152.8 569.0 L155.1 566.0 L157.4 563.0 L159.7 560.0 L161.8 557.0 L163.7 554.0 L165.6 551.0 L167.5 548.0 L169.4 545.0 L171.3 542.0 L173.3 539.0 L175.4 536.0 L177.5 533.0 L179.6 530.0 L181.7 527.0 L183.8 524.0 L185.9 521.0 L188.0 518.0 L190.1 515.0 L192.2 512.0 L194.3 509.0 L196.3 506.0 L198.5 503.0 L200.8 500.0 L203.1 497.0 L205.4 494.0 L207.3 491.0 L209.2 488.0 L211.0 485.0 L212.9 482.0 L214.7 479.0 L216.6 476.0 L218.5 473.0 L220.4 470.0 L221.8 467.0 L223.2 464.0 L224.4 461.0 L225.6 458.0 L226.7 455.0 L227.8 452.0 L228.8 449.0 L229.9 446.0 L231.1 443.0 L232.2 440.0 Z" fill="url(#bvg3)"/>
  <path d="M231.5 440.0 L230.3 443.0 L229.2 446.0 L228.2 449.0 L227.1 452.0 L226.1 455.0 L225.0 458.0 L223.9 461.0 L222.7 464.0 L221.3 467.0 L220.0 470.0 L218.1 473.0 L216.2 476.0 L214.3 479.0 L212.5 482.0 L210.6 485.0 L208.8 488.0 L207.0 491.0 L205.0 494.0 L202.7 497.0 L200.4 500.0 L198.1 503.0 L196.0 506.0 L194.0 509.0 L191.9 512.0 L189.9 515.0 L187.7 518.0 L185.6 521.0 L183.5 524.0 L181.4 527.0 L179.3 530.0 L177.2 533.0 L175.1 536.0 L173.0 539.0 L171.1 542.0 L169.2 545.0 L167.3 548.0 L165.4 551.0 L163.5 554.0 L161.6 557.0 L159.6 560.0 L157.2 563.0 L154.9 566.0 L152.6 569.0 L150.5 572.0 L148.7 575.0 L146.9 578.0 L145.1 581.0 L143.3 584.0 L141.6 587.0 L140.0 590.0 L138.4 593.0 L136.8 596.0 L135.1 599.0 L133.4 602.0 L131.7 605.0 L130.0 608.0 L128.2 611.0 L126.5 614.0 L124.8 617.0 L123.2 620.0 L121.6 623.0 L119.9 626.0 L118.3 629.0 L116.7 632.0 L115.2 635.0 L113.7 638.0 L112.1 641.0 L110.6 644.0 L109.1 647.0 L107.6 650.0 L106.1 653.0 L104.6 656.0 L104.3 656.0 L105.8 653.0 L107.3 650.0 L108.8 647.0 L110.4 644.0 L111.9 641.0 L113.5 638.0 L115.1 635.0 L116.6 632.0 L118.3 629.0 L119.9 626.0 L121.6 623.0 L123.3 620.0 L125.0 617.0 L126.7 614.0 L128.4 611.0 L130.2 608.0 L132.0 605.0 L133.7 602.0 L135.5 599.0 L137.2 596.0 L138.9 593.0 L140.6 590.0 L142.3 587.0 L144.0 584.0 L145.9 581.0 L147.7 578.0 L149.5 575.0 L151.4 572.0 L153.5 569.0 L155.8 566.0 L158.1 563.0 L160.4 560.0 L162.5 557.0 L164.5 554.0 L166.4 551.0 L168.4 548.0 L170.3 545.0 L172.3 542.0 L174.3 539.0 L176.4 536.0 L178.5 533.0 L180.6 530.0 L182.8 527.0 L184.9 524.0 L187.1 521.0 L189.2 518.0 L191.4 515.0 L193.5 512.0 L195.6 509.0 L197.7 506.0 L199.8 503.0 L202.1 500.0 L204.4 497.0 L206.7 494.0 L208.8 491.0 L210.7 488.0 L212.6 485.0 L214.5 482.0 L216.4 479.0 L218.4 476.0 L220.3 473.0 L222.3 470.0 L223.8 467.0 L225.2 464.0 L226.6 461.0 L227.9 458.0 L229.2 455.0 L230.4 452.0 L231.5 449.0 L232.8 446.0 L234.1 443.0 L235.4 440.0 Z" fill="url(#bvg4)"/>
  <path d="M234.6 440.0 L233.3 443.0 L232.1 446.0 L230.9 449.0 L229.7 452.0 L228.6 455.0 L227.3 458.0 L226.1 461.0 L224.7 464.0 L223.3 467.0 L221.8 470.0 L219.9 473.0 L217.9 476.0 L216.0 479.0 L214.1 482.0 L212.2 485.0 L210.3 488.0 L208.4 491.0 L206.4 494.0 L204.1 497.0 L201.8 500.0 L199.5 503.0 L197.3 506.0 L195.2 509.0 L193.2 512.0 L191.1 515.0 L188.9 518.0 L186.8 521.0 L184.7 524.0 L182.5 527.0 L180.4 530.0 L178.3 533.0 L176.1 536.0 L174.0 539.0 L172.1 542.0 L170.1 545.0 L168.2 548.0 L166.2 551.0 L164.3 554.0 L162.3 557.0 L160.3 560.0 L158.0 563.0 L155.7 566.0 L153.4 569.0 L151.2 572.0 L149.4 575.0 L147.5 578.0 L145.7 581.0 L143.9 584.0 L142.2 587.0 L140.5 590.0 L138.8 593.0 L137.1 596.0 L135.4 599.0 L133.7 602.0 L131.9 605.0 L130.1 608.0 L128.4 611.0 L126.6 614.0 L124.9 617.0 L123.3 620.0 L121.6 623.0 L119.9 626.0 L118.3 629.0 L116.7 632.0 L115.1 635.0 L113.5 638.0 L112.0 641.0 L110.4 644.0 L108.9 647.0 L107.3 650.0 L105.8 653.0 L104.3 656.0 L103.9 656.0 L105.5 653.0 L107.0 650.0 L108.6 647.0 L110.1 644.0 L111.7 641.0 L113.3 638.0 L114.9 635.0 L116.6 632.0 L118.2 629.0 L119.9 626.0 L121.6 623.0 L123.3 620.0 L125.0 617.0 L126.8 614.0 L128.6 611.0 L130.4 608.0 L132.2 605.0 L134.0 602.0 L135.8 599.0 L137.5 596.0 L139.3 593.0 L141.0 590.0 L142.8 587.0 L144.6 584.0 L146.5 581.0 L148.4 578.0 L150.3 575.0 L152.2 572.0 L154.3 569.0 L156.6 566.0 L158.9 563.0 L161.2 560.0 L163.2 557.0 L165.2 554.0 L167.2 551.0 L169.2 548.0 L171.2 545.0 L173.2 542.0 L175.3 539.0 L177.4 536.0 L179.6 533.0 L181.7 530.0 L183.9 527.0 L186.1 524.0 L188.2 521.0 L190.4 518.0 L192.6 515.0 L194.7 512.0 L196.8 509.0 L199.0 506.0 L201.2 503.0 L203.5 500.0 L205.8 497.0 L208.1 494.0 L210.2 491.0 L212.2 488.0 L214.1 485.0 L216.1 482.0 L218.1 479.0 L220.1 476.0 L222.1 473.0 L224.1 470.0 L225.7 467.0 L227.3 464.0 L228.8 461.0 L230.2 458.0 L231.6 455.0 L233.0 452.0 L234.3 449.0 L235.6 446.0 L237.1 443.0 L238.5 440.0 Z" fill="url(#bvg5)"/>
  <path d="M237.7 440.0 L236.3 443.0 L234.9 446.0 L233.6 449.0 L232.3 452.0 L231.0 455.0 L229.7 458.0 L228.3 461.0 L226.8 464.0 L225.2 467.0 L223.7 470.0 L221.7 473.0 L219.7 476.0 L217.7 479.0 L215.7 482.0 L213.8 485.0 L211.8 488.0 L209.8 491.0 L207.8 494.0 L205.5 497.0 L203.2 500.0 L200.8 503.0 L198.7 506.0 L196.5 509.0 L194.4 512.0 L192.3 515.0 L190.1 518.0 L187.9 521.0 L185.8 524.0 L183.6 527.0 L181.5 530.0 L179.3 533.0 L177.2 536.0 L175.0 539.0 L173.0 542.0 L171.0 545.0 L169.0 548.0 L167.0 551.0 L165.0 554.0 L163.1 557.0 L161.0 560.0 L158.7 563.0 L156.4 566.0 L154.1 569.0 L152.0 572.0 L150.1 575.0 L148.2 578.0 L146.3 581.0 L144.5 584.0 L142.7 587.0 L140.9 590.0 L139.2 593.0 L137.4 596.0 L135.7 599.0 L133.9 602.0 L132.1 605.0 L130.3 608.0 L128.5 611.0 L126.8 614.0 L125.0 617.0 L123.3 620.0 L121.6 623.0 L119.9 626.0 L118.2 629.0 L116.6 632.0 L115.0 635.0 L113.4 638.0 L111.8 641.0 L110.2 644.0 L108.6 647.0 L107.1 650.0 L105.5 653.0 L104.0 656.0 L103.6 656.0 L105.2 653.0 L106.7 650.0 L108.3 647.0 L109.9 644.0 L111.5 641.0 L113.2 638.0 L114.8 635.0 L116.5 632.0 L118.2 629.0 L119.9 626.0 L121.6 623.0 L123.4 620.0 L125.1 617.0 L126.9 614.0 L128.7 611.0 L130.6 608.0 L132.4 605.0 L134.3 602.0 L136.1 599.0 L137.9 596.0 L139.7 593.0 L141.5 590.0 L143.3 587.0 L145.2 584.0 L147.1 581.0 L149.0 578.0 L151.0 575.0 L152.9 572.0 L155.1 569.0 L157.3 566.0 L159.6 563.0 L161.9 560.0 L164.0 557.0 L166.0 554.0 L168.1 551.0 L170.1 548.0 L172.2 545.0 L174.2 542.0 L176.3 539.0 L178.4 536.0 L180.6 533.0 L182.8 530.0 L185.0 527.0 L187.2 524.0 L189.4 521.0 L191.6 518.0 L193.8 515.0 L195.9 512.0 L198.1 509.0 L200.3 506.0 L202.5 503.0 L204.8 500.0 L207.2 497.0 L209.5 494.0 L211.6 491.0 L213.6 488.0 L215.7 485.0 L217.7 482.0 L219.8 479.0 L221.9 476.0 L223.9 473.0 L226.0 470.0 L227.7 467.0 L229.4 464.0 L231.0 461.0 L232.5 458.0 L234.1 455.0 L235.5 452.0 L237.0 449.0 L238.5 446.0 L240.1 443.0 L241.6 440.0 Z" fill="url(#bvg6)"/>
  <path d="M240.8 440.0 L239.3 443.0 L237.8 446.0 L236.4 449.0 L234.9 452.0 L233.5 455.0 L232.0 458.0 L230.5 461.0 L228.9 464.0 L227.2 467.0 L225.6 470.0 L223.5 473.0 L221.4 476.0 L219.4 479.0 L217.3 482.0 L215.3 485.0 L213.3 488.0 L211.3 491.0 L209.1 494.0 L206.8 497.0 L204.5 500.0 L202.2 503.0 L200.0 506.0 L197.8 509.0 L195.6 512.0 L193.5 515.0 L191.3 518.0 L189.1 521.0 L186.9 524.0 L184.7 527.0 L182.5 530.0 L180.4 533.0 L178.2 536.0 L176.0 539.0 L174.0 542.0 L171.9 545.0 L169.9 548.0 L167.9 551.0 L165.8 554.0 L163.8 557.0 L161.7 560.0 L159.4 563.0 L157.1 566.0 L154.9 569.0 L152.7 572.0 L150.8 575.0 L148.9 578.0 L146.9 581.0 L145.0 584.0 L143.2 587.0 L141.4 590.0 L139.6 593.0 L137.8 596.0 L136.0 599.0 L134.2 602.0 L132.3 605.0 L130.5 608.0 L128.7 611.0 L126.9 614.0 L125.1 617.0 L123.4 620.0 L121.6 623.0 L119.9 626.0 L118.2 629.0 L116.5 632.0 L114.8 635.0 L113.2 638.0 L111.6 641.0 L110.0 644.0 L108.4 647.0 L106.8 650.0 L105.2 653.0 L103.7 656.0 L103.3 656.0 L104.9 653.0 L106.5 650.0 L108.1 647.0 L109.7 644.0 L111.4 641.0 L113.0 638.0 L114.7 635.0 L116.4 632.0 L118.1 629.0 L119.9 626.0 L121.6 623.0 L123.4 620.0 L125.2 617.0 L127.0 614.0 L128.9 611.0 L130.7 608.0 L132.6 605.0 L134.5 602.0 L136.4 599.0 L138.2 596.0 L140.1 593.0 L142.0 590.0 L143.8 587.0 L145.7 584.0 L147.7 581.0 L149.7 578.0 L151.7 575.0 L153.7 572.0 L155.8 569.0 L158.1 566.0 L160.3 563.0 L162.6 560.0 L164.7 557.0 L166.8 554.0 L168.9 551.0 L171.0 548.0 L173.1 545.0 L175.2 542.0 L177.3 539.0 L179.5 536.0 L181.7 533.0 L183.9 530.0 L186.1 527.0 L188.3 524.0 L190.5 521.0 L192.8 518.0 L195.0 515.0 L197.2 512.0 L199.4 509.0 L201.6 506.0 L203.9 503.0 L206.2 500.0 L208.5 497.0 L210.8 494.0 L213.0 491.0 L215.1 488.0 L217.2 485.0 L219.3 482.0 L221.5 479.0 L223.6 476.0 L225.7 473.0 L227.9 470.0 L229.7 467.0 L231.4 464.0 L233.2 461.0 L234.8 458.0 L236.5 455.0 L238.1 452.0 L239.7 449.0 L241.4 446.0 L243.1 443.0 L244.7 440.0 Z" fill="url(#bvg7)"/>
  <path d="M244.0 440.0 L242.3 443.0 L240.7 446.0 L239.1 449.0 L237.5 452.0 L235.9 455.0 L234.3 458.0 L232.7 461.0 L230.9 464.0 L229.2 467.0 L227.4 470.0 L225.3 473.0 L223.2 476.0 L221.1 479.0 L219.0 482.0 L216.9 485.0 L214.8 488.0 L212.7 491.0 L210.5 494.0 L208.2 497.0 L205.9 500.0 L203.5 503.0 L201.3 506.0 L199.1 509.0 L196.9 512.0 L194.7 515.0 L192.5 518.0 L190.3 521.0 L188.0 524.0 L185.8 527.0 L183.6 530.0 L181.4 533.0 L179.2 536.0 L177.0 539.0 L174.9 542.0 L172.8 545.0 L170.8 548.0 L168.7 551.0 L166.6 554.0 L164.5 557.0 L162.4 560.0 L160.1 563.0 L157.9 566.0 L155.6 569.0 L153.5 572.0 L151.5 575.0 L149.5 578.0 L147.6 581.0 L145.6 584.0 L143.7 587.0 L141.8 590.0 L140.0 593.0 L138.1 596.0 L136.3 599.0 L134.4 602.0 L132.6 605.0 L130.7 608.0 L128.8 611.0 L127.0 614.0 L125.2 617.0 L123.4 620.0 L121.6 623.0 L119.9 626.0 L118.1 629.0 L116.4 632.0 L114.7 635.0 L113.1 638.0 L111.4 641.0 L109.8 644.0 L108.1 647.0 L106.5 650.0 L104.9 653.0 L103.4 656.0 L103.0 656.0 L104.6 653.0 L106.2 650.0 L107.8 647.0 L109.5 644.0 L111.2 641.0 L112.9 638.0 L114.6 635.0 L116.3 632.0 L118.1 629.0 L119.9 626.0 L121.7 623.0 L123.5 620.0 L125.3 617.0 L127.1 614.0 L129.0 611.0 L130.9 608.0 L132.8 605.0 L134.8 602.0 L136.7 599.0 L138.6 596.0 L140.5 593.0 L142.4 590.0 L144.3 587.0 L146.3 584.0 L148.3 581.0 L150.3 578.0 L152.4 575.0 L154.4 572.0 L156.6 569.0 L158.8 566.0 L161.0 563.0 L163.3 560.0 L165.5 557.0 L167.6 554.0 L169.7 551.0 L171.8 548.0 L174.0 545.0 L176.1 542.0 L178.3 539.0 L180.5 536.0 L182.7 533.0 L185.0 530.0 L187.2 527.0 L189.4 524.0 L191.7 521.0 L193.9 518.0 L196.2 515.0 L198.4 512.0 L200.7 509.0 L202.9 506.0 L205.2 503.0 L207.5 500.0 L209.9 497.0 L212.2 494.0 L214.4 491.0 L216.6 488.0 L218.8 485.0 L221.0 482.0 L223.1 479.0 L225.3 476.0 L227.5 473.0 L229.7 470.0 L231.6 467.0 L233.5 464.0 L235.4 461.0 L237.2 458.0 L239.0 455.0 L240.7 452.0 L242.5 449.0 L244.2 446.0 L246.0 443.0 L247.8 440.0 Z" fill="url(#bvg8)"/>
  <path d="M247.1 440.0 L245.3 443.0 L243.6 446.0 L241.8 449.0 L240.1 452.0 L238.4 455.0 L236.6 458.0 L234.8 461.0 L233.0 464.0 L231.2 467.0 L229.3 470.0 L227.1 473.0 L224.9 476.0 L222.7 479.0 L220.6 482.0 L218.4 485.0 L216.3 488.0 L214.1 491.0 L211.9 494.0 L209.6 497.0 L207.2 500.0 L204.9 503.0 L202.6 506.0 L200.4 509.0 L198.1 512.0 L195.9 515.0 L193.7 518.0 L191.4 521.0 L189.2 524.0 L186.9 527.0 L184.7 530.0 L182.5 533.0 L180.3 536.0 L178.0 539.0 L175.9 542.0 L173.8 545.0 L171.6 548.0 L169.5 551.0 L167.4 554.0 L165.3 557.0 L163.1 560.0 L160.9 563.0 L158.6 566.0 L156.4 569.0 L154.2 572.0 L152.2 575.0 L150.2 578.0 L148.2 581.0 L146.2 584.0 L144.2 587.0 L142.3 590.0 L140.4 593.0 L138.5 596.0 L136.6 599.0 L134.7 602.0 L132.8 605.0 L130.9 608.0 L129.0 611.0 L127.1 614.0 L125.3 617.0 L123.5 620.0 L121.6 623.0 L119.9 626.0 L118.1 629.0 L116.3 632.0 L114.6 635.0 L112.9 638.0 L111.2 641.0 L109.6 644.0 L107.9 647.0 L106.3 650.0 L104.7 653.0 L103.1 656.0 L102.7 656.0 L104.3 653.0 L105.9 650.0 L107.6 647.0 L109.3 644.0 L111.0 641.0 L112.7 638.0 L114.5 635.0 L116.2 632.0 L118.0 629.0 L119.8 626.0 L121.7 623.0 L123.5 620.0 L125.4 617.0 L127.3 614.0 L129.2 611.0 L131.1 608.0 L133.0 605.0 L135.0 602.0 L137.0 599.0 L138.9 596.0 L140.9 593.0 L142.9 590.0 L144.9 587.0 L146.9 584.0 L148.9 581.0 L151.0 578.0 L153.1 575.0 L155.2 572.0 L157.3 569.0 L159.5 566.0 L161.8 563.0 L164.0 560.0 L166.2 557.0 L168.4 554.0 L170.5 551.0 L172.7 548.0 L174.9 545.0 L177.1 542.0 L179.3 539.0 L181.5 536.0 L183.8 533.0 L186.0 530.0 L188.3 527.0 L190.6 524.0 L192.9 521.0 L195.1 518.0 L197.4 515.0 L199.7 512.0 L202.0 509.0 L204.3 506.0 L206.6 503.0 L208.9 500.0 L211.2 497.0 L213.6 494.0 L215.9 491.0 L218.1 488.0 L220.3 485.0 L222.6 482.0 L224.8 479.0 L227.1 476.0 L229.3 473.0 L231.6 470.0 L233.6 467.0 L235.6 464.0 L237.6 461.0 L239.5 458.0 L241.4 455.0 L243.3 452.0 L245.2 449.0 L247.1 446.0 L249.0 443.0 L251.0 440.0 Z" fill="url(#bvg9)"/>
  <path d="M250.2 440.0 L248.3 443.0 L246.4 446.0 L244.6 449.0 L242.7 452.0 L240.8 455.0 L238.9 458.0 L237.0 461.0 L235.1 464.0 L233.1 467.0 L231.2 470.0 L228.9 473.0 L226.7 476.0 L224.4 479.0 L222.2 482.0 L220.0 485.0 L217.7 488.0 L215.5 491.0 L213.3 494.0 L210.9 497.0 L208.6 500.0 L206.2 503.0 L203.9 506.0 L201.7 509.0 L199.4 512.0 L197.1 515.0 L194.8 518.0 L192.6 521.0 L190.3 524.0 L188.0 527.0 L185.8 530.0 L183.5 533.0 L181.3 536.0 L179.0 539.0 L176.8 542.0 L174.7 545.0 L172.5 548.0 L170.3 551.0 L168.2 554.0 L166.0 557.0 L163.8 560.0 L161.6 563.0 L159.4 566.0 L157.1 569.0 L155.0 572.0 L152.9 575.0 L150.8 578.0 L148.8 581.0 L146.7 584.0 L144.7 587.0 L142.8 590.0 L140.8 593.0 L138.8 596.0 L136.9 599.0 L134.9 602.0 L133.0 605.0 L131.1 608.0 L129.1 611.0 L127.2 614.0 L125.4 617.0 L123.5 620.0 L121.7 623.0 L119.8 626.0 L118.0 629.0 L116.3 632.0 L114.5 635.0 L112.8 638.0 L111.0 641.0 L109.3 644.0 L107.7 647.0 L106.0 650.0 L104.4 653.0 L102.7 656.0 L102.3 656.0 L104.0 653.0 L105.7 650.0 L107.4 647.0 L109.1 644.0 L110.8 641.0 L112.6 638.0 L114.4 635.0 L116.2 632.0 L118.0 629.0 L119.8 626.0 L121.7 623.0 L123.6 620.0 L125.5 617.0 L127.4 614.0 L129.3 611.0 L131.3 608.0 L133.3 605.0 L135.3 602.0 L137.3 599.0 L139.3 596.0 L141.3 593.0 L143.3 590.0 L145.4 587.0 L147.5 584.0 L149.5 581.0 L151.7 578.0 L153.8 575.0 L155.9 572.0 L158.1 569.0 L160.3 566.0 L162.5 563.0 L164.7 560.0 L166.9 557.0 L169.1 554.0 L171.3 551.0 L173.6 548.0 L175.8 545.0 L178.0 542.0 L180.3 539.0 L182.6 536.0 L184.8 533.0 L187.1 530.0 L189.4 527.0 L191.7 524.0 L194.0 521.0 L196.3 518.0 L198.6 515.0 L200.9 512.0 L203.3 509.0 L205.6 506.0 L207.9 503.0 L210.3 500.0 L212.6 497.0 L215.0 494.0 L217.3 491.0 L219.6 488.0 L221.9 485.0 L224.2 482.0 L226.5 479.0 L228.8 476.0 L231.2 473.0 L233.5 470.0 L235.6 467.0 L237.7 464.0 L239.7 461.0 L241.8 458.0 L243.9 455.0 L245.9 452.0 L247.9 449.0 L250.0 446.0 L252.0 443.0 L254.1 440.0 Z" fill="url(#bvg10)"/>
  <path d="M253.3 440.0 L251.3 443.0 L249.3 446.0 L247.3 449.0 L245.3 452.0 L243.3 455.0 L241.2 458.0 L239.2 461.0 L237.2 464.0 L235.1 467.0 L233.0 470.0 L230.7 473.0 L228.4 476.0 L226.1 479.0 L223.8 482.0 L221.5 485.0 L219.2 488.0 L216.9 491.0 L214.6 494.0 L212.3 497.0 L209.9 500.0 L207.6 503.0 L205.3 506.0 L203.0 509.0 L200.6 512.0 L198.3 515.0 L196.0 518.0 L193.7 521.0 L191.4 524.0 L189.1 527.0 L186.9 530.0 L184.6 533.0 L182.3 536.0 L180.0 539.0 L177.8 542.0 L175.6 545.0 L173.4 548.0 L171.1 551.0 L168.9 554.0 L166.8 557.0 L164.6 560.0 L162.3 563.0 L160.1 566.0 L157.9 569.0 L155.7 572.0 L153.6 575.0 L151.5 578.0 L149.4 581.0 L147.3 584.0 L145.3 587.0 L143.2 590.0 L141.2 593.0 L139.2 596.0 L137.2 599.0 L135.2 602.0 L133.2 605.0 L131.2 608.0 L129.3 611.0 L127.4 614.0 L125.4 617.0 L123.6 620.0 L121.7 623.0 L119.8 626.0 L118.0 629.0 L116.2 632.0 L114.4 635.0 L112.6 638.0 L110.9 641.0 L109.1 644.0 L107.4 647.0 L105.7 650.0 L104.1 653.0 L102.4 656.0 L102.1 656.0 L103.8 653.0 L105.5 650.0 L107.2 647.0 L108.9 644.0 L110.7 641.0 L112.5 638.0 L114.3 635.0 L116.1 632.0 L117.9 629.0 L119.8 626.0 L121.7 623.0 L123.6 620.0 L125.5 617.0 L127.5 614.0 L129.4 611.0 L131.4 608.0 L133.4 605.0 L135.4 602.0 L137.5 599.0 L139.5 596.0 L141.6 593.0 L143.7 590.0 L145.8 587.0 L147.9 584.0 L150.0 581.0 L152.2 578.0 L154.3 575.0 L156.5 572.0 L158.7 569.0 L160.8 566.0 L163.0 563.0 L165.3 560.0 L167.5 557.0 L169.7 554.0 L172.0 551.0 L174.2 548.0 L176.5 545.0 L178.8 542.0 L181.0 539.0 L183.3 536.0 L185.6 533.0 L187.9 530.0 L190.2 527.0 L192.6 524.0 L194.9 521.0 L197.2 518.0 L199.6 515.0 L201.9 512.0 L204.2 509.0 L206.6 506.0 L208.9 503.0 L211.3 500.0 L213.6 497.0 L216.0 494.0 L218.4 491.0 L220.7 488.0 L223.1 485.0 L225.4 482.0 L227.8 479.0 L230.2 476.0 L232.5 473.0 L234.9 470.0 L237.1 467.0 L239.2 464.0 L241.4 461.0 L243.6 458.0 L245.7 455.0 L247.9 452.0 L250.0 449.0 L252.2 446.0 L254.3 443.0 L256.5 440.0 Z" fill="url(#bvg11)"/>
  </g>
  <path d="M243.2 455.0 C241.4 457.5 236.2 465.0 232.4 470.0 C228.6 475.0 224.5 480.0 220.6 485.0 C216.6 490.0 212.7 495.0 208.8 500.0 C204.9 505.0 200.9 510.0 197.1 515.0 C193.2 520.0 189.3 525.0 185.4 530.0 C181.6 535.0 177.8 540.0 174.0 545.0 C170.2 550.0 166.5 555.0 162.8 560.0 C159.1 565.0 155.4 570.0 151.8 575.0 C148.2 580.0 144.7 585.0 141.2 590.0 C137.7 595.0 134.3 600.0 130.9 605.0 C127.6 610.0 124.3 615.0 121.1 620.0 C117.9 625.0 114.8 630.0 111.8 635.0 C108.7 640.0 105.8 645.0 103.0 650.0 C100.1 655.0 96.1 662.5 94.7 665.0" fill="none" stroke="#3c3c3c" stroke-width="5" opacity="0.55" filter="url(#blur2)"/>

  <path d="M318 335 C316 350 310 366 300 382 C290 398 278 414 262 436" fill="none" stroke="#6a6a6a" stroke-width="14" opacity="0.45" filter="url(#blur5)"/>
  <path d="M214.4 451.5 C213.4 453.2 210.8 457.9 208.4 462.0 C206.0 466.1 203.1 471.0 200.0 476.0 C196.9 481.0 193.3 486.7 189.9 492.0 C186.5 497.3 183.1 502.7 179.6 508.0 C176.1 513.3 172.8 518.3 169.1 524.0 C165.4 529.7 161.1 536.3 157.4 542.0 C153.8 547.7 150.6 552.5 147.2 558.0 C143.8 563.5 138.6 572.2 136.9 575.0" fill="none" stroke="#ffffff" stroke-width="12" opacity="0.75" filter="url(#blur5)"/>
</g>
<path d="M315.0 365.0 C313.2 367.5 308.1 375.0 304.6 380.0 C301.0 385.0 297.4 390.0 293.8 395.0 C290.1 400.0 286.4 405.0 282.7 410.0 C279.0 415.0 275.1 420.0 271.4 425.0 C267.6 430.0 263.9 435.0 260.1 440.0 C256.4 445.0 252.7 450.0 248.9 455.0 C245.2 460.0 241.5 465.0 237.6 470.0 C233.8 475.0 229.8 480.0 225.8 485.0 C221.9 490.0 218.0 495.0 214.0 500.0 C210.1 505.0 206.2 510.0 202.3 515.0 C198.4 520.0 194.5 525.0 190.7 530.0 C186.8 535.0 183.0 540.0 179.2 545.0 C175.5 550.0 171.7 555.0 168.0 560.0 C164.3 565.0 160.7 570.0 157.1 575.0 C153.5 580.0 149.9 585.0 146.4 590.0 C142.9 595.0 139.5 600.0 136.2 605.0 C132.8 610.0 129.5 615.0 126.4 620.0 C123.2 625.0 120.0 630.0 117.0 635.0 C114.0 640.0 111.0 645.0 108.2 650.0 C105.4 655.0 101.4 662.5 100.0 665.0" fill="none" stroke="#d6d6d6" stroke-width="3.6"/>
<path d="M315.0 365.0 C313.2 367.5 308.1 375.0 304.6 380.0 C301.0 385.0 297.4 390.0 293.8 395.0 C290.1 400.0 286.4 405.0 282.7 410.0 C279.0 415.0 275.1 420.0 271.4 425.0 C267.6 430.0 263.9 435.0 260.1 440.0 C256.4 445.0 252.7 450.0 248.9 455.0 C245.2 460.0 241.5 465.0 237.6 470.0 C233.8 475.0 229.8 480.0 225.8 485.0 C221.9 490.0 218.0 495.0 214.0 500.0 C210.1 505.0 206.2 510.0 202.3 515.0 C198.4 520.0 194.5 525.0 190.7 530.0 C186.8 535.0 183.0 540.0 179.2 545.0 C175.5 550.0 171.7 555.0 168.0 560.0 C164.3 565.0 160.7 570.0 157.1 575.0 C153.5 580.0 149.9 585.0 146.4 590.0 C142.9 595.0 139.5 600.0 136.2 605.0 C132.8 610.0 129.5 615.0 126.4 620.0 C123.2 625.0 120.0 630.0 117.0 635.0 C114.0 640.0 111.0 645.0 108.2 650.0 C105.4 655.0 101.4 662.5 100.0 665.0" fill="none" stroke="#f6f6f6" stroke-width="1.2"/>
<path d="M315.3 363.0 C312.8 365.8 304.8 374.7 300.6 380.0 C296.3 385.3 293.4 390.0 289.8 395.0 C286.1 400.0 282.4 405.0 278.7 410.0 C275.0 415.0 271.1 420.0 267.4 425.0 C263.7 430.0 260.1 435.0 256.5 440.0 C252.8 445.0 249.3 450.0 245.7 455.0 C242.1 460.0 238.7 465.0 234.9 470.0 C231.1 475.0 227.0 480.0 223.1 485.0 C219.1 490.0 215.2 495.0 211.3 500.0 C207.4 505.0 203.4 510.0 199.6 515.0 C195.7 520.0 191.8 525.0 187.9 530.0 C184.1 535.0 180.3 540.0 176.5 545.0 C172.7 550.0 169.0 555.0 165.3 560.0 C161.6 565.0 157.9 570.0 154.3 575.0 C150.7 580.0 147.2 585.0 143.7 590.0 C140.2 595.0 136.8 600.0 133.4 605.0 C130.1 610.0 126.8 615.0 123.6 620.0 C120.4 625.0 117.3 630.0 114.3 635.0 C111.2 640.0 108.3 645.0 105.5 650.0 C102.6 655.0 98.6 662.5 97.2 665.0" fill="none" stroke="#262626" stroke-width="1.4"/>
<path d="M319.0 365.0 C317.2 367.5 312.1 375.0 308.6 380.0 C305.0 385.0 301.4 390.0 297.8 395.0 C294.1 400.0 290.4 405.0 286.7 410.0 C283.0 415.0 279.2 420.0 275.4 425.0 C271.5 430.0 267.7 435.0 263.8 440.0 C260.0 445.0 256.1 450.0 252.2 455.0 C248.2 460.0 244.3 465.0 240.4 470.0 C236.5 475.0 232.5 480.0 228.6 485.0 C224.6 490.0 220.7 495.0 216.8 500.0 C212.9 505.0 208.9 510.0 205.1 515.0 C201.2 520.0 197.3 525.0 193.4 530.0 C189.6 535.0 185.8 540.0 182.0 545.0 C178.2 550.0 174.5 555.0 170.8 560.0 C167.1 565.0 163.4 570.0 159.8 575.0 C156.2 580.0 152.7 585.0 149.2 590.0 C145.7 595.0 142.3 600.0 138.9 605.0 C135.6 610.0 132.3 615.0 129.1 620.0 C125.9 625.0 122.8 630.0 119.8 635.0 C116.7 640.0 113.8 645.0 111.0 650.0 C108.1 655.0 104.1 662.5 102.7 665.0" fill="none" stroke="#262626" stroke-width="1.5"/>
<path d="M318.0 281.9 C317.0 283.8 314.3 290.2 312.1 293.6 C309.9 297.0 307.6 298.1 304.7 302.5 C301.8 306.9 297.7 315.2 294.4 320.0 C291.1 324.8 288.1 327.7 285.0 331.0 C281.9 334.3 280.1 334.3 275.6 340.0 C271.1 345.7 263.8 356.4 258.0 365.0 C252.2 373.6 246.7 382.5 240.8 391.4 C234.9 400.3 228.2 410.8 222.7 418.6 C217.2 426.4 210.1 435.0 207.6 438.3" fill="none" stroke="#3a3a3a" stroke-width="1.1"/>
<path d="M317.8 268.4 C317.6 270.6 317.5 277.4 316.4 281.4 C315.2 285.5 312.9 289.4 310.8 292.7 C308.6 296.1 306.4 297.3 303.5 301.7 C300.6 306.1 296.6 314.5 293.4 319.3 C290.2 324.1 287.4 327.0 284.3 330.3 C281.3 333.7 278.0 336.0 275.1 339.5 C272.1 343.1 268.0 349.7 266.6 351.7 L267.4 352.3 C268.9 350.3 273.1 343.9 276.1 340.5 C279.2 337.0 282.5 334.9 285.7 331.7 C288.9 328.4 292.0 325.4 295.4 320.7 C298.8 316.0 302.9 307.7 305.9 303.3 C308.9 298.9 311.2 298.0 313.4 294.5 C315.7 291.0 318.3 286.7 319.6 282.4 C320.9 278.1 320.9 271.1 321.2 268.8 Z" fill="#1c1c1c"/>
<path d="M326 261 C324.5 265 323.5 269 323 273 C322.5 277 322 280 321.5 283 C320 287 318 290.5 315.5 294 C313 297.5 310.5 300.5 307.5 303.5 C304 308 301 313 297.5 319 C294.5 323.5 291.5 327.5 288 331" fill="none" stroke="#ffffff" stroke-width="2.6" opacity="0.95"/>
<path d="M337 286 C331 296 326 305 321 316 C318 324 317 332 317 342" fill="none" stroke="#9a9a9a" stroke-width="6" opacity="0.35" filter="url(#blur2)"/>
<path d="M205.4 451.5 C204.4 453.2 201.8 457.9 199.4 462.0 C197.0 466.1 194.1 471.0 191.0 476.0 C187.9 481.0 184.3 486.7 180.9 492.0 C177.5 497.3 174.1 502.7 170.6 508.0 C167.1 513.3 163.8 518.3 160.1 524.0 C156.4 529.7 152.1 536.3 148.4 542.0 C144.8 547.7 141.6 552.5 138.2 558.0 C134.8 563.5 131.2 569.3 127.9 575.0 C124.6 580.7 121.1 586.7 118.2 592.0 C115.3 597.3 112.9 602.0 110.4 607.0 C107.9 612.0 105.5 617.2 103.4 622.0 C101.3 626.8 99.4 631.5 97.7 636.0 C96.0 640.5 94.7 645.2 93.3 649.0 C91.9 652.8 91.0 656.2 89.5 659.0 C88.0 661.8 85.3 664.4 84.5 665.5" fill="none" stroke="#b0b0b0" stroke-width="0.8"/>
<!-- notch -->
<g clip-path="url(#bladeClip)">
  <path d="M203 458 C207 460 212 462 215 464" fill="none" stroke="#3a3a3a" stroke-width="7" opacity="0.55" filter="url(#blur2)"/>
  <path d="M216 456 C215 470 210 485 200 500" fill="none" stroke="#888" stroke-width="3" opacity="0.35" filter="url(#blur2)"/>
</g>
<path d="M207 440 C208.5 441 209.8 441.8 210.8 442.6 C212.5 444 214 445.5 215.2 447 C216 448.5 216.6 450 216.8 451.4 L216.6 454.1 C214.5 452.5 212.8 451.5 211 450.5 C209 449.5 207.2 448.6 205.6 448 Z" fill="#111"/>
<path d="M205.6 448 C207.2 448.6 209 449.5 211 450.5 C212.8 451.5 214.5 452.5 216.6 454.1 L216.2 457 C214 455.5 212 454.5 210 453.6 C208 452.8 206 452 204.2 451.3 Z" fill="#fafafa"/>
<!-- tip shading -->
<g clip-path="url(#bladeClip)">
  <ellipse cx="94" cy="688" rx="10" ry="9" fill="#5e5e5e" opacity="0.75" filter="url(#blur2)"/>
  <ellipse cx="83" cy="676" rx="5" ry="8" fill="#c4c4c4" opacity="0.8" filter="url(#blur2)"/>
</g>
<!-- tip highlights -->
<ellipse cx="101.3" cy="667" rx="2" ry="1.6" fill="#fff"/>
<ellipse cx="98" cy="684.8" rx="2" ry="1.8" fill="#fff"/>

<!-- ============ handle 2 (thumb ring) ============ -->
<path d="M452 190 L465 180 C475 183.5 490 186.5 507.5 187 C530 189 550 198.5 563.5 217 C570.5 229 571.5 245 568.5 262 C563.5 279 548 294 528.5 302 C514 308 500 311.5 488 310.5 C478 311 470 307 462 303 C452 298.5 440 295.5 430 296 C418 297.5 405 302 396.5 307.2 C385 313 375 319 366 323.5 L359.6 327.7 L353.5 318 C354.8 316.9 358.2 313.5 361.0 311.5 C363.8 309.5 365.6 308.6 370.0 306.0 C374.4 303.4 382.0 299.6 387.7 296.0 C393.4 292.4 398.9 288.8 404.0 284.5 C409.1 280.2 414.1 275.4 418.0 270.0 C421.9 264.6 425.0 257.3 427.5 252.0 C430.0 246.7 430.4 242.7 433.0 238.0 C435.6 233.3 440.1 228.3 443.0 224.0 C445.9 219.7 448.8 215.8 450.5 212.0 C452.2 208.2 453.2 204.7 453.5 201.0 C453.8 197.3 452.2 191.8 452.0 190.0 Z" fill="#fff" stroke="#1c1c1c" stroke-width="3"/>
<path d="M488 310.5 C478 310 470 307 462 303 C452 298.5 440 295.5 430 296 C418 297.5 405 302 396.5 307.2 C385 313 375 319 362 326" fill="none" stroke="#1c1c1c" stroke-width="5"/>
<path d="M466 180 C475 183.5 490 186.5 507.5 187 C530 189 550 198.5 563.5 217 C570.5 229 571.5 245 568.5 262 C563.5 279 548 294 528.5 302 C514 308 500 311.5 488 310.5" fill="none" stroke="#1c1c1c" stroke-width="5.5"/>
<ellipse cx="499.5" cy="245.3" rx="65.7" ry="46.1" transform="rotate(-32.4 499.5 245.3)" fill="#1a4ad8"/>
<ellipse cx="500.7" cy="246.9" rx="55" ry="36" transform="rotate(-32.4 500.7 246.9)" fill="#fff"/>
<ellipse cx="500" cy="246" rx="60.3" ry="41" transform="rotate(-32.4 500 246)" fill="none" stroke="#4f80f0" stroke-width="3" opacity="0.4"/>
<path d="M514 190.5 C535 193 552 202 561 217 C567 228 568 244 565.5 260 C561 276 547 290 528 298.5" fill="none" stroke="#8a8a8a" stroke-width="3" opacity="0.6" filter="url(#blur1)"/>
<!-- heel of lower blade in gap -->
<path d="M314.3 340 C318 338.5 322 337.5 325.6 337 C330 334.5 334 332.5 338 330.3 C343 326.5 348 322.5 353.5 317.9 C356 319 358 321 358.6 323 C359.5 325 359.8 327 359.6 327.7 C359 329.5 358.5 331 357.6 332.8 C354 336.5 350 340.5 346.2 344.2 C343 347 339.5 350.5 335.9 353.5 C332.5 356.5 329 359.5 325.6 362.7 C323.5 364.5 321.5 366 319.4 367.9 C317.5 364 316.5 360 316.3 356.5 C316 353 315.6 349.5 315.3 346.2 C315 344 314.6 342 314.3 340 Z" fill="url(#heelG)"/>
<path d="M353.5 317.9 C356 319 358 321 358.6 323 C359.5 325 359.8 327 359.6 327.7" fill="none" stroke="#f4f4f4" stroke-width="1.4"/>
<path d="M357.6 332.8 C354 336.5 350 340.5 346.2 344.2 C343 347 339.5 350.5 335.9 353.5 C332.5 356.5 329 359.5 325.6 362.7 C323.5 364.5 321.5 366 319.4 367.9" fill="none" stroke="#333" stroke-width="1"/>

<!-- ============ handle 1 (finger ring + tang) ============ -->
<path d="M467 3 C464 3 462.5 6 462 12 L460 47 L457 71 C455.5 78 452 81 445 83 C438 86 428 86 418 87 C405 88 393 92 382 99 C370 108 361 120 356 135 C352 146 351 160 354 174 C357 183 366 191 370 200 C372.5 208 371 216 368.9 222.4 C366 229 361 236 355.3 240.8 C350 245 345 248 340 250 C334 252.5 329 253.5 325.3 255.3 L321.7 259.8 C320.5 263 319.8 266 319.5 268.6 C319 273 318.6 278 318 281.9 C316.5 286 314.5 290 312.1 293.6 C310 297 307.5 300 304.7 302.5 C300.5 308 297 314 294.4 320 L316 322 L330 292 C337 285 341 276 345.3 269.5 L357 250.7 C362 243 366 237 371.3 231.8 C375 226 380 221 385.4 217.7 C391 214 397 211 404.3 208.3 C412 205 420 202 427.8 198.9 C436 195 443 191 449 187 C455 182 460 176 463 170 C466 160 467 150 468 141 C471 120 475 100 476.5 80 L478 40 C478 15 476 3 467 3 Z" fill="url(#h1G)"/>
<!-- left contour -->
<path d="M467 3 C464 3 462.5 6 462 12 L460 47 L457 71 C455.5 78 452 81 445 83 C438 86 428 86 418 87 C405 88 393 92 382 99 C370 108 361 120 356 135 C352 146 351 160 354 174 C357 183 366 191 370 200 C372.5 208 371 216 368.9 222.4 C366 229 361 236 355.3 240.8 C350 245 345 248 340 250 C334 252.5 329 253.5 325.3 255.3 L321.7 259.8 C320.5 263 319.8 266 319.5 268.6 C319 273 318.6 278 318 281.9 C316.5 286 314.5 290 312.1 293.6 C310 297 307.5 300 304.7 302.5 C300.5 308 297 314 294.4 320" fill="none" stroke="#1c1c1c" stroke-width="3.4"/>
<path d="M467.6 5 C465.6 6 464.9 9 464.6 14 L462.8 47 L460 72" fill="none" stroke="#1c1c1c" stroke-width="4"/>
<!-- tang right contour / band -->
<path d="M467 3 C476 3 478 15 478 40 L476.5 80 C475 100 471.5 120 468.5 141 C467.2 150 466 160 463 170 L460.5 168 C462 160 462.8 150 463.7 141 C465 128 466.5 112 468 94 C469.2 80 470.5 60 470.5 40 C470.5 20 469.5 8 467 3 Z" fill="#1c1c1c"/>
<path d="M467 3 C476 3 478 15 478 40 L476.5 80 C475 100 471.5 120 468.5 141 C467.2 150 466 160 463 170" fill="none" stroke="#1c1c1c" stroke-width="1.5"/>

<!-- upper shank right dark band -->
<path d="M461.3 169.9 C460.3 171.3 457.3 175.7 454.9 178.2 C452.5 180.7 449.8 183.0 447.0 184.9 C444.3 186.9 442.2 188.1 438.5 189.9 C434.7 191.6 430.3 193.0 424.7 195.5 C419.2 198.1 411.8 201.6 405.3 205.1 C398.8 208.7 392.3 212.2 385.8 216.8 C379.3 221.3 371.7 227.1 366.1 232.3 C360.5 237.5 355.9 242.8 352.2 247.8 C348.6 252.7 347.2 257.1 344.3 262.2 C341.4 267.2 338.4 272.6 335.0 278.2 C331.7 283.7 327.4 290.2 324.3 295.3 C321.2 300.4 318.6 304.7 316.6 308.7 C314.6 312.7 313.4 315.8 312.4 319.3 C311.4 322.8 310.9 326.0 310.5 329.8 C310.1 333.5 310.0 337.9 310.2 341.9 C310.4 345.9 311.2 350.3 311.8 353.9 C312.4 357.4 313.5 361.7 313.8 363.3 L316.8 362.7 C316.5 361.1 315.5 356.8 315.0 353.3 C314.5 349.8 313.7 345.6 313.6 341.7 C313.4 337.9 313.6 333.7 314.1 330.2 C314.6 326.7 315.4 323.9 316.6 320.7 C317.8 317.5 319.2 315.0 321.4 311.3 C323.6 307.6 326.4 303.6 329.7 298.7 C333.0 293.8 337.5 287.3 341.0 281.8 C344.5 276.4 347.8 270.8 350.7 265.8 C353.6 260.9 354.9 256.9 358.4 252.2 C361.8 247.6 366.0 242.8 371.3 237.9 C376.6 233.0 383.8 227.2 390.0 222.8 C396.3 218.4 402.5 214.9 408.7 211.5 C415.0 208.0 422.2 204.4 427.7 201.9 C433.1 199.3 437.7 198.1 441.5 196.1 C445.4 194.2 448.0 192.5 451.0 190.1 C453.9 187.7 456.8 184.8 459.1 181.8 C461.4 178.8 463.7 173.7 464.7 172.1 Z" fill="#2a2a2a"/>
<path d="M447.8 186.9 C446.3 187.8 442.6 190.5 438.8 192.4 C435.0 194.3 430.5 195.5 425.0 198.1 C419.5 200.7 412.2 204.2 405.8 207.7 C399.4 211.2 393.1 214.7 386.7 219.2 C380.3 223.7 372.9 229.5 367.5 234.5 C362.1 239.5 357.6 244.6 354.1 249.4 C350.6 254.2 349.2 258.4 346.3 263.4 C343.4 268.4 338.4 276.7 336.8 279.4" fill="none" stroke="#7a7a7a" stroke-width="1.3" opacity="0.75"/>
<ellipse cx="408" cy="142.8" rx="53" ry="53.5" fill="none" stroke="#1c1c1c" stroke-width="1.6"/>
<ellipse cx="408" cy="142.8" rx="50" ry="50.5" fill="#1a4ad8"/>
<ellipse cx="409.9" cy="143.7" rx="41.4" ry="40.7" fill="#fff"/>
<ellipse cx="409" cy="143.2" rx="45.7" ry="45.6" fill="none" stroke="#4f80f0" stroke-width="3" opacity="0.35"/>
<!-- bumper -->
<circle cx="452.5" cy="190" r="3" fill="#222"/>

<!-- pivot screw -->
<clipPath id="screwClip"><ellipse cx="244.6" cy="412.1" rx="21.9" ry="20.9"/></clipPath>
<ellipse cx="244.6" cy="412.1" rx="21.9" ry="20.9" fill="url(#screwG)"/>
<g clip-path="url(#screwClip)">
  <path d="M244.6 412.1 L262 386 L272 396 Z" fill="#5aa0ff" opacity="0.55" filter="url(#blur2)"/>
  <path d="M244.6 412.1 L226 440 L216 428 Z" fill="#5aa0ff" opacity="0.5" filter="url(#blur2)"/>
  <path d="M244.6 412.1 L272 420 L268 436 Z" fill="#0a2a90" opacity="0.35" filter="url(#blur2)"/>
</g>
<ellipse cx="244.6" cy="412.1" rx="21" ry="20" fill="none" stroke="#0a2580" stroke-width="1.6"/>
<path d="M260 397 A21 20 0 0 1 261 426" fill="none" stroke="#a8c0f0" stroke-width="1.5" stroke-dasharray="1 1.6"/>
<circle cx="241.9" cy="411.5" r="6.6" fill="#0a2378"/>
<circle cx="241.9" cy="411.5" r="4.6" fill="url(#ballG)"/>

<!-- ============ callout lines ============ -->
<g stroke="#6a6a6a" stroke-width="1.9" fill="none">
  <path d="M194.4 153.4 L360 153.6"/>
  <path d="M463.5 174.6 L596.5 175.2 L594.8 287"/>
  <path d="M185 355 L230.7 355 L230.7 404"/>
  <path d="M493 619.5 L88.3 619.8 L88.6 675"/>
</g>
<g fill="#d6d6d6">
  <circle cx="361" cy="154.2" r="5.8" stroke="#b4b4b4" stroke-width="0.8"/>
  <circle cx="463.6" cy="174.4" r="5.8" stroke="#b4b4b4" stroke-width="0.8"/>
  <circle cx="229.9" cy="409.1" r="5.6" fill="#cfcfcf" opacity="0.95"/>
  <circle cx="90" cy="680.3" r="5.6" fill="#cdcdcd" stroke="#9a9a9a" stroke-width="0.6"/>
</g>

<!-- ============ labels ============ -->
<text x="34.8" y="236" font-size="21.5" textLength="108.6" lengthAdjust="spacingAndGlyphs">Removable</text>
<text x="34.0" y="260.6" font-size="21.5" textLength="161.0" lengthAdjust="spacingAndGlyphs">rubber protection</text>
<text x="2.2" y="497.5" font-size="21.5" textLength="162.3" lengthAdjust="spacingAndGlyphs">Adjustable screw</text>
<text x="514.6" y="500" font-size="21.5" textLength="149.3" lengthAdjust="spacingAndGlyphs">Rubber bumper</text>
<text x="532.0" y="722.3" font-size="21.5" textLength="132.1" lengthAdjust="spacingAndGlyphs">Safe round tip</text>
</svg>
</body></html>
